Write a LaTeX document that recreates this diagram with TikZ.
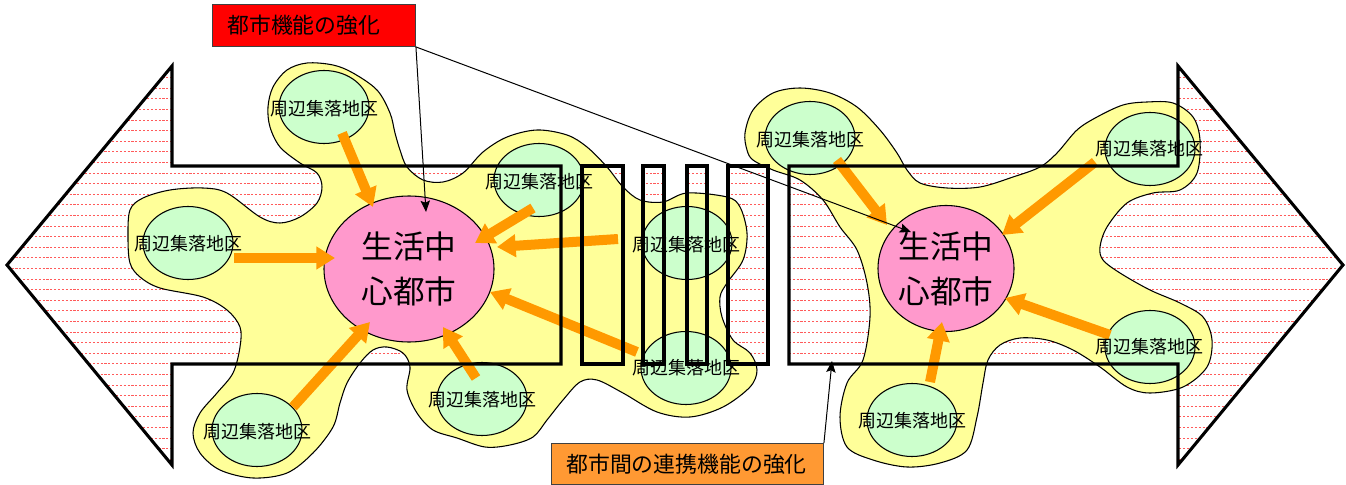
\documentclass[tikz,border=0pt]{standalone}
\usepackage{fontspec}
\setmainfont{Noto Sans CJK JP}
\usetikzlibrary{arrows.meta}
\definecolor{blobyellow}{HTML}{FFFF99}
\definecolor{vgreen}{HTML}{CCFFCC}
\definecolor{cpink}{HTML}{FF99CC}
\definecolor{arrorange}{HTML}{FF9900}
\definecolor{boxorange}{HTML}{FF9933}
\definecolor{hatchred}{HTML}{FF5A5A}
\begin{document}
\begin{tikzpicture}[x=0.75pt,y=-0.75pt,
  hatchline/.style={draw=hatchred, line width=0.5pt, dash pattern=on 1.6pt off 1.3pt},
  blob/.style={fill=blobyellow, draw=black, line width=0.8pt},
  village/.style={fill=vgreen, draw=black, line width=0.8pt},
  vlabel/.style={font=\fontsize{13.5}{15}\selectfont, inner sep=0pt},
  center/.style={fill=cpink, draw=black, line width=0.8pt},
  clabel/.style={font=\fontsize{23.8}{33.75}\selectfont, align=center, inner sep=0pt},
  flow/.style={draw=arrorange, line width=7.5pt, -{Triangle[width=16.5pt, length=14pt]}},
  outline/.style={draw=black, line width=2.3pt, line join=miter},
  callout/.style={draw=black!75, line width=0.7pt, inner sep=0pt},
  ctext/.style={font=\fontsize{16.4}{18}\selectfont, inner sep=0pt, anchor=west},
  ann/.style={draw=black, line width=0.75pt, -{Stealth[length=8.5pt, width=7pt, inset=1.5pt]}}
]
\useasboundingbox (0,0) rectangle (1346,485);

% ---------- hatched arrow band ----------
\begin{scope}
  \clip (7,265) -- (172,66) -- (172,166) -- (561,166) -- (561,364) -- (172,364) -- (172,465) -- cycle
        (582,166) rectangle (623,364)
        (643,166) rectangle (664,364)
        (687,166) rectangle (707,364)
        (728,166) rectangle (768,364)
        (789,166) -- (1178,166) -- (1178,66) -- (1343,265) -- (1178,465) -- (1178,364) -- (789,364) -- cycle;
  \foreach \i in {0,...,38} {
    \draw[hatchline] (0,{67+10.6*\i}) -- (1346,{67+10.6*\i});
  }
\end{scope}

% ---------- yellow areas ----------
\draw[blob] plot[smooth cycle, tension=0.55] coordinates {
 (268,107) (273,87) (287,70) (307,63) (333,65) (353,73) (377,90) (390,113) (395,133) (400,150)
 (407,167) (423,180) (443,182) (463,173) (483,152) (507,137) (537,130) (567,135) (587,147)
 (607,167) (623,187) (640,200) (663,202) (687,193) (727,197) (740,207) (747,233) (743,260)
 (727,283) (720,297) (722,317) (733,340) (750,353) (757,370) (750,387) (723,407) (690,417)
 (657,412) (623,393) (597,380) (580,382) (563,400) (547,420) (533,437) (510,445) (485,447)
 (457,438) (433,430) (417,413) (407,390) (410,367) (403,353) (387,347) (373,350) (360,363)
 (347,383) (340,403) (333,427) (313,453) (287,473) (253,478) (220,470) (200,453) (193,433)
 (200,413) (217,393) (233,373) (240,347) (240,327) (227,310) (203,297) (160,288) (140,277)
 (130,263) (128,237) (130,210) (143,198) (170,190) (203,188) (227,193) (260,217) (280,223)
 (300,217) (317,203) (322,187) (317,173) (300,163) (280,147) (270,127)};

\draw[blob] plot[smooth cycle, tension=0.55] coordinates {
 (745,133) (753,110) (773,93) (800,88) (830,93) (857,107) (880,130) (897,153) (907,170)
 (920,183) (947,188) (980,187) (1013,177) (1040,167) (1057,153) (1077,130) (1097,117)
 (1123,105) (1147,102) (1173,103) (1193,117) (1200,140) (1197,173) (1180,190) (1153,193)
 (1127,203) (1107,227) (1100,247) (1103,260) (1120,273) (1150,290) (1180,303) (1203,317)
 (1212,340) (1207,367) (1183,387) (1150,393) (1127,387) (1100,367) (1073,350) (1047,340)
 (1020,338) (1000,345) (988,360) (983,383) (977,417) (967,450) (940,463) (907,467) (873,460)
 (847,447) (840,417) (847,383) (863,360) (870,317) (867,283) (857,250) (840,227) (823,200)
 (800,180) (773,170) (753,160) (747,150)};

% ---------- villages (ellipses) ----------
\foreach \x/\y in {324/107, 188/243, 257/430, 482/399, 539/180, 687/243, 686/368,
                   810/138, 1150/149, 1150/347, 912/420} {
  \draw[village] (\x,\y) ellipse [x radius=45, y radius=36.5];
}

% ---------- central cities ----------
\draw[center] (409,269) ellipse [x radius=85, y radius=73];
\draw[center] (946,268.5) ellipse [x radius=68, y radius=63];

% ---------- flow arrows ----------
\coordinate (fa1) at (342,133); \coordinate (ta1) at (373,207);
\coordinate (fa2) at (234,258); \coordinate (ta2) at (335,258);
\coordinate (fa3) at (293,407); \coordinate (ta3) at (370,322);
\coordinate (fa4) at (476,378); \coordinate (ta4) at (443,327);
\coordinate (fa5) at (637,352); \coordinate (ta5) at (490,292);
\coordinate (fa6) at (618,239); \coordinate (ta6) at (497,247);
\coordinate (fa7) at (533,208); \coordinate (ta7) at (475,243);
\coordinate (fb1) at (837,160); \coordinate (tb1) at (887,225);
\coordinate (fb2) at (1095,162); \coordinate (tb2) at (1002,235);
\coordinate (fb3) at (1110,335); \coordinate (tb3) at (1005,298);
\coordinate (fb4) at (930,382); \coordinate (tb4) at (942,322);
\foreach \s/\t in {fa1/ta1, fa2/ta2, fa3/ta3, fa4/ta4, fa5/ta5, fa6/ta6, fa7/ta7,
                   fb1/tb1, fb2/tb2, fb3/tb3, fb4/tb4} {
  \draw[flow] (\s) -- (\t);
}

% ---------- arrow band outline ----------
\draw[outline] (7,265) -- (172,66) -- (172,166) -- (561,166) -- (561,364) -- (172,364) -- (172,465) -- cycle;
\draw[outline] (582,166) rectangle (623,364);
\draw[outline] (643,166) rectangle (664,364);
\draw[outline] (687,166) rectangle (707,364);
\draw[outline] (728,166) rectangle (768,364);
\draw[outline] (789,166) -- (1178,166) -- (1178,66) -- (1343,265) -- (1178,465) -- (1178,364) -- (789,364) -- cycle;

% ---------- labels ----------
\node[vlabel] (v1) at (324,109) {周辺集落地区};
\node[vlabel] (v2) at (188,244) {周辺集落地区};
\node[vlabel] (v3) at (257,432) {周辺集落地区};
\node[vlabel] (v4) at (482,400) {周辺集落地区};
\node[vlabel] (v5) at (539,182) {周辺集落地区};
\node[vlabel] (v6) at (686,245) {周辺集落地区};
\node[vlabel] (v7) at (686,368) {周辺集落地区};
\node[vlabel] (v8) at (810,140) {周辺集落地区};
\node[vlabel] (v9) at (1149,149) {周辺集落地区};
\node[vlabel] (v10) at (1149,347) {周辺集落地区};
\node[vlabel] (v11) at (912,421) {周辺集落地区};

\node[clabel] (c1) at (409,269) {生活中\\心都市};
\node[clabel] (c2) at (946,269) {生活中\\心都市};

% ---------- callouts ----------
\node[callout, fill=red, minimum width=152.25pt, minimum height=31.5pt, anchor=north west] (cb1) at (212,4) {};
\node[ctext] (cb1t) at (227,25) {都市機能の強化};
\node[callout, fill=boxorange, minimum width=204pt, minimum height=30.75pt, anchor=north west] (cb2) at (551,443) {};
\node[ctext] (cb2t) at (566,464) {都市間の連携機能の強化};

\coordinate (p1) at (426,212);
\coordinate (p2) at (911,232);
\coordinate (p3) at (832,361);
\draw[ann] (cb1.south east) -- (p1);
\draw[ann] (cb1.south east) -- (p2);
\draw[ann] (cb2.north east) -- (p3);
\end{tikzpicture}
\end{document}
